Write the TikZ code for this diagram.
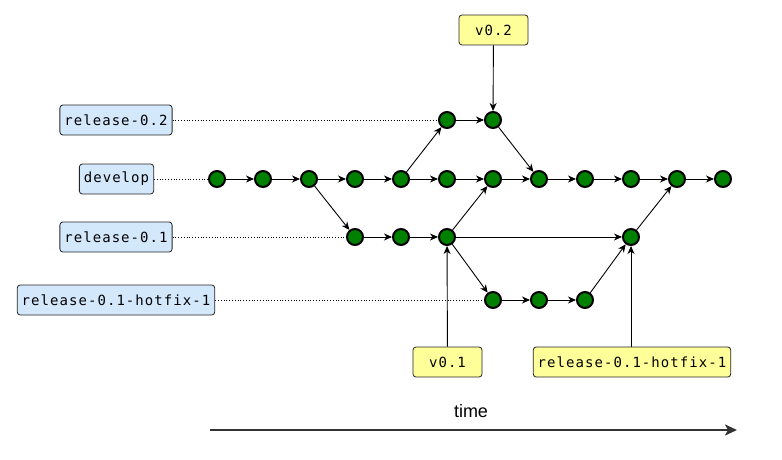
\documentclass[tikz,border=0pt]{standalone}
\usepackage{fontspec}
\setmainfont{Liberation Sans}
\newfontfamily\monofont[LetterSpace=7.5]{DejaVu Sans Mono}
\usetikzlibrary{arrows.meta,backgrounds}
\definecolor{branchfill}{HTML}{D4E8FC}
\definecolor{tagfill}{HTML}{FFFF99}
\definecolor{commitgreen}{HTML}{008000}
\definecolor{timegray}{HTML}{333333}
\begin{document}
\begin{tikzpicture}[x=1pt,y=-1pt,
  commit/.style={circle,draw=black,line width=2pt,fill=commitgreen,minimum size=16pt,inner sep=0pt},
  labelbox/.style={draw=black!85,line width=0.8pt,rounded corners=3pt,font=\monofont\fontsize{14}{16}\selectfont,minimum height=30pt,inner xsep=4.5pt,inner ysep=0pt},
  branchlabel/.style={labelbox,fill=branchfill},
  taglabel/.style={labelbox,fill=tagfill,minimum width=69pt},
  edge/.style={-{Stealth[length=8pt,width=7pt,inset=2.5pt]},line width=0.9pt},
  pointer/.style={dotted,line width=0.8pt},
  timeline/.style={draw=timegray,line width=2.8pt,-{Stealth[length=12pt,width=11pt,inset=3pt]}}]
\useasboundingbox (0,0) rectangle (782,460);
% branch labels
\node[branchlabel] (lr2) at (116,120) {release-0.2};
\node[branchlabel] (ldev) at (116.5,179) {develop};
\node[branchlabel] (lr1) at (116,237) {release-0.1};
\node[branchlabel] (lhf) at (116,300) {release-0.1-hotfix-1};
% develop commits
\foreach \i [evaluate=\i as \xx using {217+46*(\i-1)}] in {1,...,12}
  \node[commit] (d\i) at (\xx,179) {};
% release-0.2
\node[commit] (a1) at (447,120) {};
\node[commit] (a2) at (493,120) {};
% release-0.1
\node[commit] (r1) at (355,237) {};
\node[commit] (r2) at (401,237) {};
\node[commit] (r3) at (447,237) {};
\node[commit] (r4) at (631,237) {};
% hotfix
\node[commit] (h1) at (493,300) {};
\node[commit] (h2) at (539,300) {};
\node[commit] (h3) at (585,300) {};
% tags
\node[taglabel] (t2) at (493.5,30) {v0.2};
\node[taglabel] (t1) at (447.5,362) {v0.1};
\node[taglabel] (thf) at (632,362) {release-0.1-hotfix-1};
% pointers
\begin{scope}[on background layer]
\draw[pointer] (lr2.east) -- (a1.center);
\draw[pointer] (ldev.east) -- (d1.center);
\draw[pointer] (lr1.east) -- (r1.center);
\draw[pointer] (lhf.east) -- (h1.center);
\end{scope}
% develop chain
\foreach \i [evaluate=\i as \j using {int(\i+1)}] in {1,...,11}
  \draw[edge] (d\i) -- (d\j);
\draw[edge] (d3) -- (r1);
\draw[edge] (r1) -- (r2);
\draw[edge] (r2) -- (r3);
\draw[edge] (d5) -- (a1);
\draw[edge] (a1) -- (a2);
\draw[edge] (a2) -- (d8);
\draw[edge] (r3) -- (d7);
\draw[edge] (r3) -- (r4);
\draw[edge] (r3) -- (h1);
\draw[edge] (h1) -- (h2);
\draw[edge] (h2) -- (h3);
\draw[edge] (h3) -- (r4);
\draw[edge] (r4) -- (d11);
\draw[edge] (t2) -- (a2);
\draw[edge] (t1) -- (r3);
\draw[edge] (r4 |- thf.north) -- (r4);
% time
\coordinate (ts) at (210,430);
\coordinate (te) at (737,430);
\draw[timeline] (ts) -- (te);
\node[font=\fontsize{18}{20}\selectfont] (time) at (471,411) {time};
\end{tikzpicture}
\end{document}
